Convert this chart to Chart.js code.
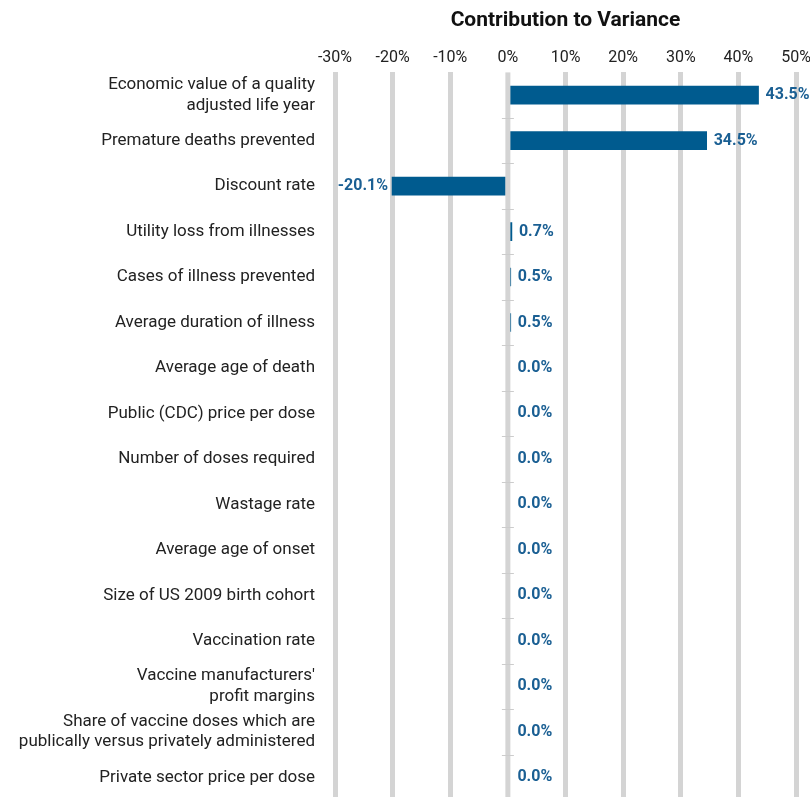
<!DOCTYPE html>
<html>
<head>
<meta charset="utf-8">
<script src="https://cdn.jsdelivr.net/npm/chart.js@4.4.1/dist/chart.umd.min.js"></script>
<style>
  html, body { margin: 0; padding: 0; background: #fff; overflow: hidden; }
  #wrap { width: 810px; height: 800px; }
</style>
</head>
<body>
<div id="wrap"><canvas id="chart"></canvas></div>
<script>
const factors = [
  ["Economic value of a quality", "adjusted life year"],
  "Premature deaths prevented",
  "Discount rate",
  "Utility loss from illnesses",
  "Cases of illness prevented",
  "Average duration of illness",
  "Average age of death",
  "Public (CDC) price per dose",
  "Number of doses required",
  "Wastage rate",
  "Average age of onset",
  "Size of US 2009 birth cohort",
  "Vaccination rate",
  ["Vaccine manufacturers'", "profit margins"],
  ["Share of vaccine doses which are", "publically versus privately administered"],
  "Private sector price per dose"
];
const contribution = [43.5, 34.5, -20.1, 0.7, 0.5, 0.5, 0, 0, 0, 0, 0, 0, 0, 0, 0, 0];
const xMin = -30;
const xMax = 50;

const barColor = "#005b8f";
const labelColor = "#1a5f93";
const gridColor = "#d4d4d4";
const fontFamily = "Roboto, 'Noto Sans', sans-serif";

// zero line sits on top of the bars, with small ticks between rows
const zeroLine = {
  id: "zeroLine",
  afterDatasetsDraw(chart) {
    const ctx = chart.ctx;
    const x = chart.scales.x;
    const y = chart.scales.y;
    const area = chart.chartArea;
    const x0 = x.getPixelForValue(0);
    ctx.save();
    ctx.fillStyle = gridColor;
    ctx.fillRect(x0 - 2.5, area.top, 5, area.bottom - area.top);
    ctx.strokeStyle = "#cccccc";
    ctx.lineWidth = 1;
    for (let i = 1; i < factors.length; i++) {
      const yb = (y.getPixelForValue(i - 1) + y.getPixelForValue(i)) / 2;
      ctx.beginPath();
      ctx.moveTo(x0 - 6, Math.round(yb) + 0.5);
      ctx.lineTo(x0 + 6, Math.round(yb) + 0.5);
      ctx.stroke();
    }
    ctx.restore();
  }
};

const valueLabels = {
  id: "valueLabels",
  afterDatasetsDraw(chart) {
    const ctx = chart.ctx;
    const x = chart.scales.x;
    const x0 = x.getPixelForValue(0);
    const meta = chart.getDatasetMeta(0);
    ctx.save();
    ctx.font = "bold 16px " + fontFamily;
    ctx.fillStyle = labelColor;
    ctx.textBaseline = "middle";
    meta.data.forEach((bar, i) => {
      const v = contribution[i];
      const txt = v.toFixed(1) + "%";
      if (v < 0) {
        ctx.textAlign = "right";
        ctx.fillText(txt, x.getPixelForValue(v) - 4, bar.y);
      } else {
        ctx.textAlign = "left";
        const end = Math.max(x.getPixelForValue(v), x0 + 2.5);
        ctx.fillText(txt, end + 7, bar.y);
      }
    });
    ctx.restore();
  }
};

new Chart(document.getElementById("chart"), {
  type: "bar",
  data: {
    labels: factors,
    datasets: [{
      data: contribution,
      backgroundColor: barColor,
      borderWidth: 0,
      barThickness: 18
    }]
  },
  options: {
    indexAxis: "y",
    responsive: true,
    maintainAspectRatio: false,
    animation: false,
    layout: { padding: { top: 4, right: 0, bottom: 0, left: 0 } },
    plugins: {
      legend: { display: false },
      tooltip: { enabled: false },
      title: {
        display: true,
        text: "Contribution to Variance",
        fullSize: false,
        color: "#111",
        font: { family: fontFamily, size: 21, weight: "bold" },
        padding: { top: 4, bottom: 10 }
      }
    },
    scales: {
      x: {
        position: "top",
        min: xMin,
        max: xMax,
        border: { display: false },
        afterFit: scale => { scale.paddingRight = 14; scale.paddingLeft = 0; },
        grid: {
          color: ctx => ctx.tick && ctx.tick.value === 0 ? "rgba(0,0,0,0)" : gridColor,
          lineWidth: 5,
          drawTicks: false
        },
        ticks: {
          stepSize: 10,
          padding: 5,
          color: "#222",
          font: { family: fontFamily, size: 16 },
          callback: v => v + "%"
        }
      },
      y: {
        border: { display: false },
        grid: { display: false, drawTicks: false },
        afterFit: scale => {
          scale.width = 335;
          scale.paddingTop = 0;
          scale.paddingBottom = 0;
        },
        ticks: {
          padding: 20,
          color: "#222",
          font: { family: fontFamily, size: 17 }
        }
      }
    }
  },
  plugins: [zeroLine, valueLabels]
});
</script>
</body>
</html>
